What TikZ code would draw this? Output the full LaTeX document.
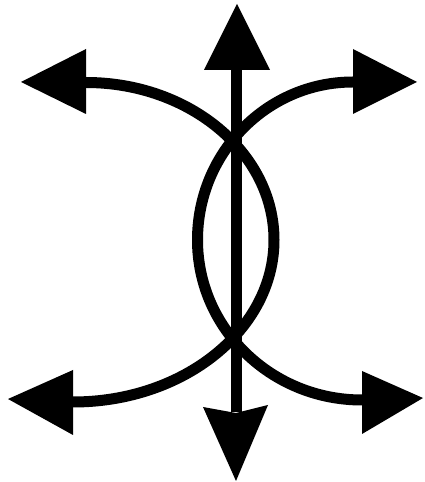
\documentclass[tikz,border=0pt]{standalone}
\begin{document}
\begin{tikzpicture}[x=1pt,y=1pt,
  stroke/.style={line width=11pt,draw=black},
  head/.style={fill=black}]
\useasboundingbox (0,0) rectangle (424,482);
% right-bulging arc, arrows at left ends
\draw[stroke] (86,399.5) arc[start angle=90,end angle=0,x radius=188,y radius=157.5]
  arc[start angle=0,end angle=-90,x radius=201,y radius=162];
% left-bulging arc, arrows at right ends
\draw[stroke] (353,400) arc[start angle=90,end angle=180,x radius=155.5,y radius=158]
  arc[start angle=180,end angle=270,x radius=164.5,y radius=160];
% vertical shaft
\coordinate (topbase) at (236,413);
\coordinate (botbase) at (236,70);
\draw[stroke] (topbase) -- (botbase);
% arrowheads
\fill[head] (21,400) -- (86,433) -- (86,368) -- cycle;
\fill[head] (417,400) -- (353,433) -- (353,368) -- cycle;
\fill[head] (8,83) -- (73,112) -- (73,47) -- cycle;
\fill[head] (423,84) -- (362,111) -- (362,48) -- cycle;
\fill[head] (237,478) -- (204,412) -- (270,412) -- cycle;
\fill[head] (236,1) -- (203,75) -- (236,69) -- (268,77) -- cycle;
\end{tikzpicture}
\end{document}
